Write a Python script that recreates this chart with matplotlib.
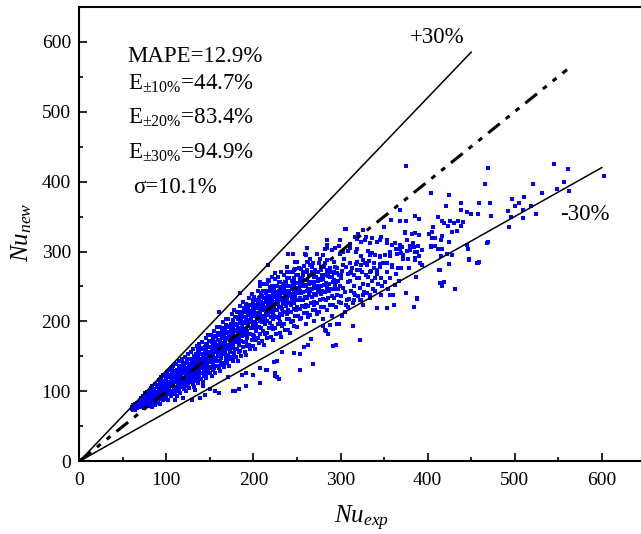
import matplotlib
matplotlib.use("Agg")
import matplotlib.pyplot as plt
from matplotlib.ticker import MultipleLocator

plt.rcParams['font.family'] = ['Liberation Serif', 'DejaVu Serif']
plt.rcParams['mathtext.fontset'] = 'custom'
plt.rcParams['mathtext.rm'] = 'Liberation Serif'
plt.rcParams['mathtext.it'] = 'Liberation Serif:italic'

# (Nu_exp, Nu_new) points, grouped by region
band_60_100 = [
    (60,75),(61,78),(62,73),(62,80),(63,76),(64,82),(64,74),(65,79),(66,84),(66,76),(67,81),(68,78),(69,85),(69,80),
    (70,77),(70,86),(71,81),(71,91),(72,78),(72,84),(73,88),(73,94),(74,80),(74,76),(75,86),(75,97),(76,82),(76,90),
    (77,79),(77,93),(78,87),(78,99),(79,83),(79,95),
    (80,79),(80,92),(80,101),(81,86),(81,97),(82,82),(82,105),(83,90),(83,94),(84,77),(84,100),(84,108),(85,85),
    (85,96),(86,91),(86,104),(87,81),(87,99),(87,111),(88,88),(88,94),(89,106),(89,84),(89,97),
    (90,84),(90,95),(90,109),(91,101),(91,116),(92,89),(92,104),(92,97),(93,112),(93,82),(94,99),(94,107),(94,120),
    (95,92),(95,103),(95,115),(96,87),(96,110),(97,98),(97,122),(97,105),(98,93),(98,113),(98,101),(99,118),(99,89),
    (99,108),(96,124),
]
band_100_150 = [
    (100,92),(100,104),(100,117),(101,99),(101,110),(101,128),(102,87),(102,113),(103,106),(103,121),(103,96),(104,131),
    (104,109),(104,101),(105,115),(105,124),(105,93),(106,107),(106,119),(106,134),(107,100),(107,112),(107,126),(108,96),
    (108,117),(108,108),(109,129),(109,103),(109,121),(102,124),(105,110),(108,136),
    (110,97),(110,113),(110,126),(111,105),(111,119),(111,139),(112,94),(112,116),(112,130),(113,109),(113,123),(113,101),
    (114,136),(114,115),(114,127),(115,104),(115,119),(115,143),(116,111),(116,131),(116,98),(117,122),(117,114),(117,137),
    (118,106),(118,128),(118,146),(119,117),(119,134),(119,110),(112,122),(114,107),(116,125),(119,141),
    (120,104),(120,119),(120,135),(121,112),(121,127),(121,149),(122,100),(122,122),(122,140),(123,116),(123,131),(123,108),
    (124,144),(124,124),(124,134),(125,111),(125,128),(125,154),(126,119),(126,138),(126,105),(127,130),(127,123),(127,147),
    (128,113),(128,137),(128,157),(129,125),(129,143),(129,118),(122,132),(124,115),(126,146),(129,134),(121,141),(127,139),
    (130,111),(130,126),(130,144),(131,119),(131,136),(131,160),(132,106),(132,131),(132,150),(133,123),(133,140),(133,115),
    (134,154),(134,133),(134,145),(135,118),(135,137),(135,165),(136,127),(136,148),(136,112),(137,139),(137,131),(137,157),
    (138,121),(138,146),(138,168),(139,134),(139,153),(139,126),(131,145),(133,129),(135,151),(137,143),(139,162),(132,140),
    (136,159),(138,138),
    (140,118),(140,134),(140,153),(141,127),(141,145),(141,170),(142,114),(142,139),(142,160),(143,131),(143,149),(143,122),
    (144,164),(144,142),(144,155),(145,125),(145,146),(145,176),(146,135),(146,158),(146,119),(147,148),(147,139),(147,167),
    (148,129),(148,156),(148,180),(149,143),(149,163),(149,134),(141,154),(143,138),(145,161),(147,152),(149,172),(142,149),
    (146,168),(148,147),(140,162),(144,134),
]
band_150_200 = [
    (150,126),(150,142),(150,163),(151,135),(151,155),(151,181),(152,122),(152,148),(152,170),(153,139),(153,159),(153,130),
    (154,175),(154,151),(154,165),(155,133),(155,156),(155,187),(156,144),(156,168),(156,127),(157,158),(157,148),(157,178),
    (158,137),(158,166),(158,192),(159,152),(159,174),(159,143),(151,164),(153,147),(155,171),(157,162),(159,184),(152,158),
    (156,179),(158,157),(150,172),(154,143),
    (160,133),(160,151),(160,173),(161,143),(161,165),(161,192),(162,129),(162,157),(162,181),(163,148),(163,169),(163,138),
    (164,186),(164,161),(164,176),(165,141),(165,166),(165,199),(166,153),(166,179),(166,135),(167,168),(167,158),(167,189),
    (168,146),(168,177),(168,204),(169,162),(169,185),(169,152),(161,174),(163,157),(165,182),(167,172),(169,195),(162,168),
    (166,190),(168,167),(160,183),(164,153),
    (170,141),(170,160),(170,184),(171,152),(171,176),(171,203),(172,136),(172,167),(172,192),(173,157),(173,180),(173,147),
    (174,197),(174,171),(174,187),(175,149),(175,177),(175,211),(176,162),(176,190),(176,143),(177,179),(177,168),(177,200),
    (178,155),(178,188),(178,216),(179,172),(179,196),(179,161),(171,185),(173,166),(175,193),(177,183),(179,207),(172,179),
    (176,202),(178,177),(170,194),(174,162),
    (180,149),(180,170),(180,195),(181,161),(181,187),(181,214),(182,144),(182,178),(182,203),(183,167),(183,191),(183,156),
    (184,209),(184,182),(184,198),(185,158),(185,188),(185,222),(186,172),(186,201),(186,151),(187,190),(187,179),(187,212),
    (188,164),(188,199),(188,228),(189,183),(189,207),(189,171),(181,196),(183,176),(185,204),(187,194),(189,219),(182,190),
    (186,213),(188,188),(180,206),(184,172),
    (190,157),(190,180),(190,206),(191,170),(191,198),(191,225),(192,152),(192,189),(192,214),(193,177),(193,202),(193,165),
    (194,220),(194,193),(194,209),(195,167),(195,199),(195,233),(196,182),(196,212),(196,160),(197,201),(197,190),(197,224),
    (198,173),(198,210),(198,239),(199,194),(199,218),(199,181),(191,207),(193,186),(195,215),(197,205),(199,230),(192,201),
    (196,224),(198,199),(190,217),(194,182),
]
band_200_250 = [
    (200,165),(200,190),(200,216),(201,179),(201,208),(201,235),(202,160),(202,199),(202,224),(203,187),(203,212),(203,174),
    (204,231),(204,203),(204,219),(205,176),(205,209),(205,244),(206,192),(206,222),(206,169),(207,211),(207,200),(207,235),
    (208,182),(208,220),(208,250),(209,204),(209,228),(209,190),(201,217),(203,196),(205,226),(207,215),(209,241),(202,211),
    (206,234),(208,209),(200,227),(204,192),
    (210,172),(210,199),(210,225),(211,187),(211,217),(211,244),(212,167),(212,208),(212,233),(213,196),(213,221),(213,182),
    (214,240),(214,212),(214,228),(215,184),(215,218),(215,253),(216,200),(216,231),(216,176),(217,220),(217,209),(217,244),
    (218,190),(218,229),(218,258),(219,213),(219,237),(219,198),(211,226),(213,205),(215,235),(217,224),(219,249),(212,220),
    (216,243),(218,218),(210,236),(214,201),
    (220,178),(220,206),(220,233),(221,194),(221,225),(221,251),(222,173),(222,215),(222,240),(223,203),(223,228),(223,189),
    (224,247),(224,219),(224,235),(225,191),(225,225),(225,260),(226,207),(226,238),(226,182),(227,227),(227,216),(227,251),
    (228,197),(228,236),(228,264),(229,220),(229,244),(229,205),(221,233),(223,212),(225,242),(227,231),(229,256),(222,227),
    (226,250),(228,225),(220,243),(224,208),
    (230,183),(230,211),(230,239),(231,199),(231,231),(231,257),(232,178),(232,221),(232,246),(233,209),(233,234),(233,194),
    (234,253),(234,225),(234,241),(235,196),(235,231),(235,266),(236,213),(236,244),(236,188),(237,233),(237,222),(237,257),
    (238,203),(238,242),(238,270),(239,226),(239,250),(239,211),(231,239),(233,218),(235,248),(237,237),(239,262),(232,233),
    (236,256),(238,231),(230,249),(234,214),
    (240,188),(240,216),(240,244),(241,204),(241,236),(241,262),(242,183),(242,226),(242,251),(243,214),(243,239),(243,199),
    (244,258),(244,230),(244,246),(245,201),(245,236),(245,271),(246,218),(246,249),(246,193),(247,238),(247,227),(247,262),
    (248,208),(248,247),(248,275),(249,231),(249,255),(249,216),(241,244),(243,223),(245,253),(247,242),(249,267),(242,238),
    (246,261),(248,236),
]
band_250_300 = [
    (250,192),(250,220),(250,248),(251,208),(251,240),(251,266),(252,230),(252,255),(253,218),(253,243),(253,203),(254,262),
    (254,234),(254,250),(255,205),(255,240),(255,275),(256,222),(256,253),(257,242),(257,231),(257,266),(258,212),(258,251),
    (258,279),(259,235),(259,259),(259,220),(252,246),(256,260),
    (260,196),(260,224),(260,252),(261,212),(261,244),(261,270),(262,234),(262,259),(263,222),(263,247),(263,207),(264,266),
    (264,238),(264,254),(265,209),(265,244),(265,280),(266,226),(266,257),(267,246),(267,235),(267,270),(268,216),(268,255),
    (268,283),(269,239),(269,263),(269,224),
    (270,200),(270,228),(270,256),(271,216),(271,248),(271,274),(272,238),(272,263),(273,226),(273,251),(273,211),(274,270),
    (274,242),(274,258),(275,213),(275,248),(275,284),(276,230),(276,261),(277,250),(277,239),(277,274),(278,220),(278,259),
    (279,243),(279,267),
    (280,204),(280,232),(280,260),(281,220),(281,252),(281,278),(282,242),(282,267),(283,230),(283,255),(284,274),(284,246),
    (285,217),(285,252),(286,234),(286,265),(287,254),(287,243),(288,224),(288,263),(289,247),(289,271),
    (290,208),(290,236),(290,264),(291,224),(291,256),(292,246),(292,271),(293,234),(293,259),(294,278),(294,250),(295,221),
    (295,256),(296,238),(296,269),(297,258),(297,247),(298,228),(298,267),(299,251),
]
band_300_370 = [
    (300,226),(300,262),(301,236),(302,208),(302,272),(303,248),(304,290),(305,214),(305,242),(306,278),
    (307,230),(308,256),(309,220),(309,268),
    (310,232),(311,258),(312,244),(313,276),(314,226),(315,266),(316,250),(317,238),(318,282),(319,262),
    (312,270),(316,230),
    (320,236),(321,262),(322,248),(323,280),(324,230),(325,270),(326,254),(327,242),(328,284),(329,266),
    (322,274),(326,238),
    (330,240),(331,264),(332,252),(333,286),(334,234),(335,272),(336,258),(337,246),(338,276),(339,262),
    (340,244),(342,268),(343,254),(345,278),(346,238),(347,262),(348,250),(349,284),
    (351,256),(353,270),(355,246),(357,262),(359,280),(362,252),(364,268),(367,258),(369,276),
]
upper_pts = [
    (160,214),(184,240),(207,257),(211,254),(217,259),(217,281),(221,264),(225,269),(232,271),(239,278),
    (242,271),(240,296),(245,296),(248,285),(252,277),(260,295),(263,285),(257,269),(261,274),(267,278),
    (271,264),(276,290),(280,295),(282,283),(261,305),(284,305),(247,260),(254,259),(269,252),(276,259),
    (278,274),(284,269),
    (306,332),(320,325),(319,318),(329,321),(336,320),(346,321),(353,312),(342,314),(334,312),(324,313),
    (311,311),(299,317),(285,317),(282,303),(290,302),(298,308),(303,300),(309,301),(318,300),(331,301),
    (336,298),(340,295),(345,292),(351,295),(357,300),(363,312),(364,303),(368,309),(372,295),(374,326),
    (386,326),(376,317),(383,312),(380,302),(388,300),(378,290),(386,288),(265,290),(261,285),(250,285),
    (245,297),(259,297),(273,297),(276,290),(284,288),(292,285),(278,278),(288,277),(296,276),(303,281),
    (311,283),(319,285),(326,288),(330,281),(338,283),(345,282),(353,283),(359,278),(366,276),(342,274),
    (334,271),(319,274),(311,269),(301,266),(292,269),(280,266),(269,269),(257,271),(246,274),
    (368,360),(358,345),(368,344),(350,335),(326,331),(305,332),(317,321),(328,317),(345,316),(353,317),
    (359,309),(368,303),(284,310),(294,305),(311,305),(319,303),(299,297),(324,293),(334,295),(345,293),
    (357,293),(365,297),
]
below_pts = [
    (110,88),(119,90),(129,88),(133,102),(131,112),(123,108),(142,107),(144,95),(150,104),(156,100),
    (160,97),(139,90),(171,121),(179,100),(183,103),(187,123),(177,100),(192,108),(208,112),(200,123),
    (192,126),(214,131),(225,126),(227,121),(208,133),(215,131),(224,142),(227,144),(229,117),
    (225,122),(233,157),(247,155),(254,154),(253,131),(258,164),(263,167),(266,175),(268,139),(280,193),
    (283,187),(286,182),(291,165),(295,167),(296,196),(282,188),(288,195),(298,197),(306,224),
    (314,193),(322,174),(322,231),(334,238),(315,240),(326,224),(342,219),(353,219),(357,238),(360,238),
    (361,223),(375,240),(384,221),(388,232),
]
right_pts = [
    (375,422),(469,420),(545,425),(561,418),(603,408),(466,397),(404,383),(424,381),(521,396),(557,399),
    (548,389),(562,386),(531,383),(511,378),(497,375),(505,369),(438,370),(459,369),(472,370),(421,365),
    (492,358),(500,365),(509,359),(519,365),(438,359),(445,356),(450,354),(458,354),(473,351),(496,349),
    (525,353),(510,348),(386,351),(390,346),(375,344),(412,350),(417,344),(419,341),(426,344),(430,341),
    (435,344),(441,342),(493,335),(406,335),(423,337),(438,337),(405,328),(401,325),(428,328),(434,329),
    (374,328),(382,325),(376,316),(390,323),(405,319),(409,320),(416,322),(415,317),(425,314),(469,313),
    (445,309),(380,308),(384,307),(389,308),(370,307),(404,306),(408,308),(412,304),(416,304),(446,303),
    (369,298),(376,301),(385,300),(393,302),(390,294),(386,291),(372,290),(415,294),(428,295),(448,289),
    (458,283),(393,280),(379,277),(424,282),(387,263),(414,274),(414,255),(419,256),(417,251),(431,247),
    (388,233),(459,285),(468,312),(422,297),(404,308),(391,283),(457,283),(448,288),(413,274),
]

pts = band_60_100 + band_100_150 + band_150_200 + band_200_250 + band_250_300 + band_300_370 \
    + upper_pts + below_pts + right_pts
nu_exp = [p[0] for p in pts]
nu_new = [p[1] for p in pts]

stats = ["MAPE=12.9%",
         r"$\mathrm{E}_{\mathrm{\pm10\%}}$=44.7%",
         r"$\mathrm{E}_{\mathrm{\pm20\%}}$=83.4%",
         r"$\mathrm{E}_{\mathrm{\pm30\%}}$=94.9%",
         "\u03c3=10.1%"]

fig = plt.figure(figsize=(6.41, 5.34), dpi=100)
ax = fig.add_axes([0.1237, 0.1361, 0.8763, 0.8513])

ax.scatter(nu_exp, nu_new, s=5, marker='s', color='#0000ff', linewidths=0, zorder=2)

ax.plot([0, 450], [0, 585], color='black', lw=1.1, zorder=3)
ax.plot([0, 600], [0, 420], color='black', lw=1.1, zorder=3)
l, = ax.plot([0, 560], [0, 560], color='black', lw=2.2, zorder=3)
l.set_dashes([4.9, 2.5, 1.6, 2.5, 1.6, 2.5])

ax.text(380, 598, "+30%", fontsize=16.5, va='baseline')
ax.text(552, 345, "-30%", fontsize=16.5, va='baseline')

ys = [571, 531, 482.5, 432.3, 383.7]
xs = [55.6, 55.6, 55.6, 55.6, 62]
for s, xx, yy in zip(stats, xs, ys):
    ax.text(xx, yy, s, fontsize=16.5, va='baseline')

ax.set_xlim(0, 645)
ax.set_ylim(0, 650)
ax.xaxis.set_major_locator(MultipleLocator(100))
ax.xaxis.set_minor_locator(MultipleLocator(50))
ax.yaxis.set_major_locator(MultipleLocator(100))
ax.yaxis.set_minor_locator(MultipleLocator(50))
ax.tick_params(which='both', direction='in', labelsize=14, width=1.2)
ax.tick_params(which='major', length=6, pad=6)
ax.tick_params(which='minor', length=3)
ax.tick_params(axis='x', pad=8)
ax.spines['right'].set_visible(False)
for sp in ['left', 'bottom', 'top']:
    ax.spines[sp].set_linewidth(1.5)

fig.text(362/641, 1 - 523/534, r"$Nu_{exp}$", fontsize=18, ha='center', va='baseline')
fig.text(22/641, 1 - 232/534, r"$Nu_{new}$", fontsize=18, ha='center', va='center', rotation=90)

fig.savefig("out.png", dpi=100)
